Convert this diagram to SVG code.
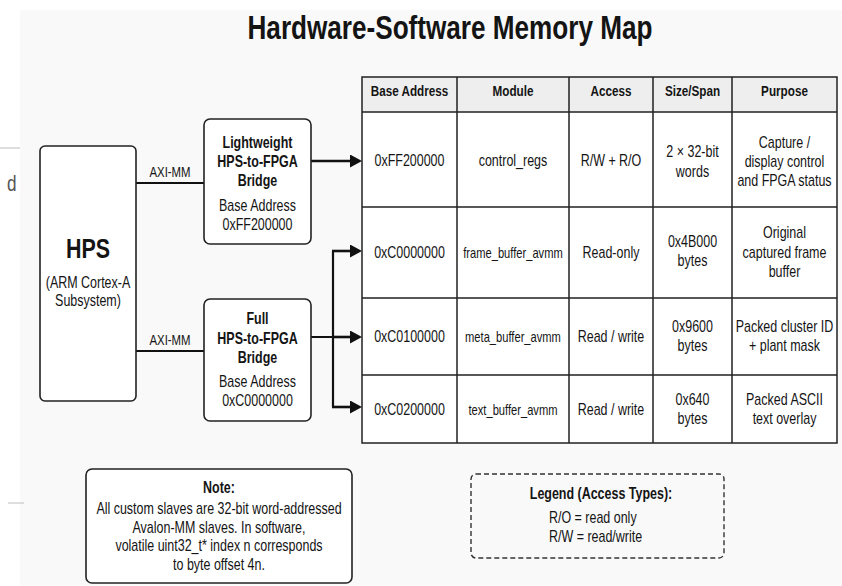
<svg xmlns="http://www.w3.org/2000/svg" width="842" height="586" viewBox="0 0 842 586">
  <style>
    /* condensed lettering: every text is squeezed horizontally, so x positions are given in the squeezed frame (x / 0.78) */
    text { font-family: "Liberation Sans", Arial, sans-serif; fill: #141414; text-anchor: middle; transform: scale(0.78, 1); }
    .title { font-size: 33.5px; font-weight: bold; }
    .hb { font-size: 27.5px; font-weight: bold; }
    .b { font-size: 16px; }
    .bb { font-size: 16px; font-weight: bold; }
    .th { font-size: 15px; font-weight: bold; }
    .sm { font-size: 14.3px; }
    .lbl { font-size: 14.6px; }
    .start { text-anchor: start; }
    .box { fill: #ffffff; stroke: #222; stroke-width: 1.6; }
    .grid { fill: none; stroke: #222; stroke-width: 1.5; }
    .wire { fill: none; stroke: #111; stroke-width: 2.2; }
    .arrow { fill: none; stroke: #111; stroke-width: 2.6; marker-end: url(#head); }
  </style>
  <defs>
    <marker id="head" markerUnits="userSpaceOnUse" markerWidth="13" markerHeight="13" refX="0" refY="6.5" orient="auto">
      <path d="M0,0 L12,6.5 L0,13 z" fill="#111"/>
    </marker>
    <clipPath id="edge"><rect x="0" y="160" width="24" height="40"/></clipPath>
  </defs>

  <!-- page -->
  <rect x="0" y="0" width="842" height="586" fill="#ffffff"/>
  <rect x="20" y="10" width="822" height="576" fill="#f9f9f9"/>
  <line x1="0" y1="148" x2="20" y2="148" stroke="#bdbdbd" stroke-width="1"/>
  <line x1="8" y1="503" x2="24" y2="503" stroke="#bdbdbd" stroke-width="1"/>
  <g clip-path="url(#edge)">
    <text class="start" x="8.97" y="191" style="font-size:22px;fill:#555">d</text>
  </g>

  <text class="title" x="576.92" y="39">Hardware-Software Memory Map</text>

  <!-- connectors -->
  <g id="connectors">
    <path class="wire" d="M136 183 H204"/>
    <text class="lbl" x="217.95" y="177">AXI-MM</text>
    <path class="wire" d="M136 351 H204"/>
    <text class="lbl" x="217.95" y="345">AXI-MM</text>
    <path class="arrow" d="M311 161 H350"/>
    <path class="wire" d="M311 337 H333 M333 251 V407"/>
    <path class="arrow" d="M332 251 H350"/>
    <path class="arrow" d="M332 337 H350"/>
    <path class="arrow" d="M332 407 H350"/>
  </g>

  <!-- HPS -->
  <g id="hps">
    <rect class="box" x="40" y="146" width="96" height="255" rx="5"/>
    <text class="hb" x="112.82" y="258">HPS</text>
    <text class="b" x="112.82" y="288">(ARM Cortex-A</text>
    <text class="b" x="112.82" y="306">Subsystem)</text>
  </g>

  <!-- Lightweight bridge -->
  <g id="lw-bridge">
    <rect class="box" x="204" y="119" width="107" height="125" rx="6"/>
    <text class="bb" x="330.13" y="148">Lightweight</text>
    <text class="bb" x="330.13" y="167">HPS-to-FPGA</text>
    <text class="bb" x="330.13" y="186">Bridge</text>
    <text class="b" x="330.13" y="211">Base Address</text>
    <text class="b" x="330.13" y="230">0xFF200000</text>
  </g>

  <!-- Full bridge -->
  <g id="full-bridge">
    <rect class="box" x="204" y="299" width="107" height="122" rx="6"/>
    <text class="bb" x="330.13" y="324">Full</text>
    <text class="bb" x="330.13" y="344">HPS-to-FPGA</text>
    <text class="bb" x="330.13" y="363">Bridge</text>
    <text class="b" x="330.13" y="387">Base Address</text>
    <text class="b" x="330.13" y="406">0xC0000000</text>
  </g>

  <!-- memory map table -->
  <g id="memory-table">
    <rect x="362" y="77" width="475" height="35" fill="#eeeeee"/>
    <rect x="362" y="112" width="475" height="331" fill="#ffffff"/>
    <rect class="grid" x="362" y="77" width="475" height="366"/>
    <path class="grid" d="M362 112 H837 M362 207 H837 M362 298 H837 M362 375 H837 M457 77 V443 M569 77 V443 M653 77 V443 M732 77 V443"/>

    <text class="th" x="525" y="96">Base Address</text>
    <text class="th" x="657.69" y="96">Module</text>
    <text class="th" x="783.33" y="96">Access</text>
    <text class="th" x="887.82" y="96">Size/Span</text>
    <text class="th" x="1005.77" y="96">Purpose</text>

    <g id="row-control">
      <text class="b" x="525" y="166">0xFF200000</text>
      <text class="b" x="657.69" y="166">control_regs</text>
      <text class="b" x="783.33" y="166">R/W + R/O</text>
      <text class="b" x="887.82" y="157">2 × 32-bit</text>
      <text class="b" x="887.82" y="177">words</text>
      <text class="b" x="1005.77" y="148">Capture /</text>
      <text class="b" x="1005.77" y="167">display control</text>
      <text class="b" x="1005.77" y="186">and FPGA status</text>
    </g>
    <g id="row-frame">
      <text class="b" x="525" y="258">0xC0000000</text>
      <text class="sm" x="657.69" y="258">frame_buffer_avmm</text>
      <text class="b" x="783.33" y="258">Read-only</text>
      <text class="b" x="887.82" y="247">0x4B000</text>
      <text class="b" x="887.82" y="266">bytes</text>
      <text class="b" x="1005.77" y="238">Original</text>
      <text class="b" x="1005.77" y="258">captured frame</text>
      <text class="b" x="1005.77" y="277">buffer</text>
    </g>
    <g id="row-meta">
      <text class="b" x="525" y="342">0xC0100000</text>
      <text class="sm" x="657.69" y="342">meta_buffer_avmm</text>
      <text class="b" x="783.33" y="342">Read / write</text>
      <text class="b" x="887.82" y="332">0x9600</text>
      <text class="b" x="887.82" y="351">bytes</text>
      <text class="b" x="1005.77" y="332">Packed cluster ID</text>
      <text class="b" x="1005.77" y="351">+ plant mask</text>
    </g>
    <g id="row-text">
      <text class="b" x="525" y="415">0xC0200000</text>
      <text class="sm" x="657.69" y="415">text_buffer_avmm</text>
      <text class="b" x="783.33" y="415">Read / write</text>
      <text class="b" x="887.82" y="405">0x640</text>
      <text class="b" x="887.82" y="424">bytes</text>
      <text class="b" x="1005.77" y="405">Packed ASCII</text>
      <text class="b" x="1005.77" y="424">text overlay</text>
    </g>
  </g>

  <!-- note -->
  <g id="note">
    <rect class="box" x="86" y="469" width="266" height="114" rx="6"/>
    <text class="bb" x="280.77" y="493">Note:</text>
    <text class="b" x="280.77" y="514">All custom slaves are 32-bit word-addressed</text>
    <text class="b" x="280.77" y="533">Avalon-MM slaves. In software,</text>
    <text class="b" x="280.77" y="551">volatile uint32_t* index n corresponds</text>
    <text class="b" x="280.77" y="570">to byte offset 4n.</text>
  </g>

  <!-- legend -->
  <g id="legend">
    <rect x="471" y="474" width="253" height="84" rx="5" fill="none" stroke="#333" stroke-width="1.4" stroke-dasharray="5 3"/>
    <text class="bb" x="770.51" y="499">Legend (Access Types):</text>
    <text class="b start" x="703.85" y="523">R/O = read only</text>
    <text class="b start" x="703.85" y="542">R/W = read/write</text>
  </g>
</svg>
